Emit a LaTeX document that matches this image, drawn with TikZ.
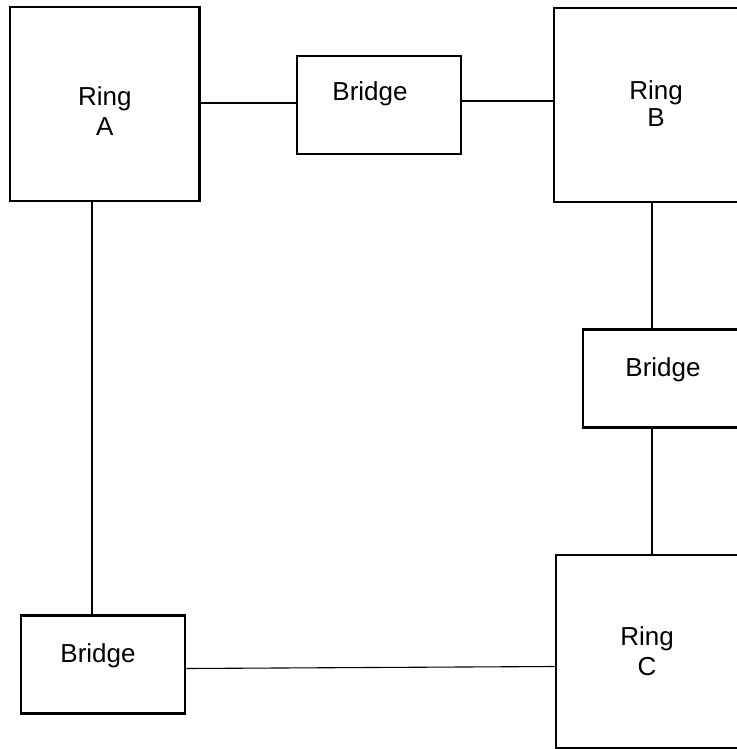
\documentclass[tikz,border=0pt]{standalone}
\usepackage{fontspec}
\setmainfont{Liberation Sans}
\usepackage{tikz}

\begin{document}
\begin{tikzpicture}[
    x=1pt, y=-1pt,
    ring/.style={rectangle, draw, line width=2.9pt, inner sep=0pt},
    bridge/.style={rectangle, draw, line width=2.9pt, inner sep=0pt, minimum width=164pt, minimum height=98pt},
    tag/.style={font=\fontsize{26}{30}\selectfont, align=center},
    link/.style={line width=1.1pt}
]
    \useasboundingbox (0,0) rectangle (736,749);

    % Rings
    \node[ring, minimum width=189.5pt, minimum height=194pt,
          label={[tag, yshift=-7.5pt]center:Ring\\A}] (ringa) at (104.75,104) {};
    \node[ring, minimum width=196pt, minimum height=194pt,
          label={[tag, font=\fontsize{26}{27}\selectfont, xshift=4pt, yshift=1pt]center:Ring\\B}] (ringb) at (652,105) {};
    \node[ring, minimum width=192pt, minimum height=193pt,
          label={[tag, xshift=-5pt]center:Ring\\C}] (ringc) at (652,651.5) {};

    % Bridges
    \node[bridge, label={[tag, xshift=-9pt, yshift=11pt]center:Bridge}] (bridgeab) at (379,105) {};
    \node[bridge, label={[tag, xshift=-2pt, yshift=9pt]center:Bridge}] (bridgebc) at (665,378.5) {};
    \node[bridge, label={[tag, xshift=-5pt, yshift=8.5pt]center:Bridge}] (bridgeca) at (103,664.5) {};

    % Links
    \draw[link] ([yshift=1pt]ringa.east) -- ([yshift=2pt]bridgeab.west);
    \draw[link] ([yshift=4pt]bridgeab.east) -- ([yshift=4pt]ringb.west);
    \draw[link] (ringb.south) -- (ringb.south |- bridgebc.north);
    \draw[link] (bridgebc.south -| ringc.north) -- (ringc.north);
    \draw[link] ([xshift=-11pt]bridgeca.north) -- ([xshift=-11pt]bridgeca.north |- ringa.south);
    \draw[link] ([yshift=-4pt]bridgeca.east) -- ([yshift=-15pt]ringc.west);
\end{tikzpicture}
\end{document}
